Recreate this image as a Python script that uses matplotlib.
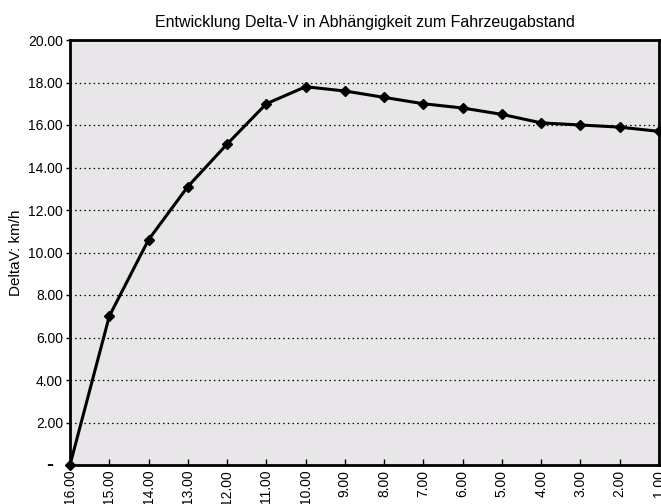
import matplotlib
matplotlib.use("Agg")
import matplotlib.pyplot as plt
import numpy as np

plt.rcParams['font.family'] = ['Liberation Sans', 'DejaVu Sans']

distances = ["16.00", "15.00", "14.00", "13.00", "12.00", "11.00", "10.00", "9.00",
             "8.00", "7.00", "6.00", "5.00", "4.00", "3.00", "2.00", "1.00"]
delta_v = [0.0, 7.0, 10.6, 13.1, 15.1, 17.0, 17.8, 17.6,
           17.3, 17.0, 16.8, 16.5, 16.1, 16.0, 15.9, 15.7]
y_ticks = [0, 2, 4, 6, 8, 10, 12, 14, 16, 18, 20]
y_tick_labels = ["", "2.00", "4.00", "6.00", "8.00", "10.00", "12.00",
                 "14.00", "16.00", "18.00", "20.00"]

fig = plt.figure(figsize=(6.61, 5.04), dpi=100)
ax = fig.add_axes([70/661, 1-465/504, (659-70)/661, (465-40)/504])
ax.set_facecolor('#e8e6e8')

x = np.arange(len(distances))
for yv in y_ticks[1:-1]:
    ax.axhline(yv, color='black', lw=0.9, ls=(0, (1.2, 2.5)), zorder=1)
ax.plot(x, delta_v, color='black', lw=2.2, marker='D', ms=5.2, zorder=3, clip_on=False)

ax.set_xlim(0, len(distances)-1)
ax.set_ylim(0, 20)
ax.set_xticks(x)
ax.set_xticklabels(distances, rotation=90, fontsize=10)
ax.set_yticks(y_ticks)
ax.set_yticklabels(y_tick_labels, fontsize=10)
ax.annotate("-", xy=(0, 0), xycoords='axes fraction', xytext=(-14.5, 0),
            textcoords='offset points', ha='center', va='center',
            fontsize=15, fontweight='bold')
ax.tick_params(axis='x', direction='in', length=4, width=1, pad=3.5)
ax.tick_params(axis='y', direction='out', length=3, width=1, pad=2)
for s in ax.spines.values():
    s.set_linewidth(2)
ax.set_ylabel("DeltaV: km/h", fontsize=11, labelpad=4)
ax.set_title("Entwicklung Delta-V in Abhängigkeit zum Fahrzeugabstand", fontsize=11.5, pad=9)

fig.savefig("out.png", dpi=100)
